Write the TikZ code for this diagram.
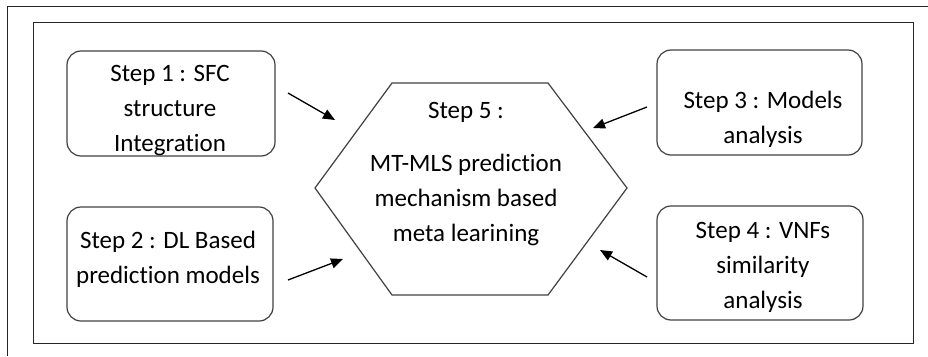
\documentclass[tikz,border=0pt]{standalone}
\usepackage{fontspec}
\setmainfont{Carlito}[Ligatures=NoCommon]
\usetikzlibrary{arrows.meta}

\tikzset{
  stepbox/.style={draw=black!75, line width=1.2pt, rounded corners=14pt,
    rectangle, inner sep=0pt},
  steptext/.style={align=center, inner sep=0pt, anchor=base,
    font=\fontsize{25}{35}\selectfont, text=black},
  flow/.style={-{Triangle[length=12pt,width=10pt]}, line width=1.3pt, black},
  frame/.style={draw=black!85, line width=1pt},
}

\begin{document}
\begin{tikzpicture}[x=1pt, y=-1pt]
  \useasboundingbox (0,0) rectangle (928,356);

  % outer page frame (only its top and left edges fall in view)
  \draw[frame] (7,356) -- (7,6) -- (928,6);
  % inner frame
  \draw[frame] (33,22) rectangle (913,343);

  % the four step boxes
  \node[stepbox, minimum width=208pt, minimum height=105pt] (s1) at (171,103.5) {};
  \node[stepbox, minimum width=206pt, minimum height=114pt] (s2) at (170,264) {};
  \node[stepbox, minimum width=205pt, minimum height=105pt] (s3) at (759.5,102.5) {};
  \node[stepbox, minimum width=206pt, minimum height=114pt] (s4) at (760,263) {};

  % box texts, placed by the baseline of their last line
  \node[steptext] (t1) at (170,151) {Step 1 : SFC\\structure\\Integration};
  \node[steptext] (t2) at (168,283) {Step 2 : DL Based\\prediction models};
  \node[steptext] (t3) at (763,143) {Step 3 : Models\\analysis};
  \node[steptext] (t4) at (763,308) {Step 4 : VNFs\\similarity\\analysis};

  % central hexagon
  \coordinate (h1) at (392,83);
  \coordinate (h2) at (548,83);
  \coordinate (h3) at (627,188);
  \coordinate (h4) at (548,295);
  \coordinate (h5) at (392,295);
  \coordinate (h6) at (315,188);
  \draw[draw=black!75, line width=1.2pt, line join=miter]
    (h1) -- (h2) -- (h3) -- (h4) -- (h5) -- (h6) -- cycle;
  \node[steptext] (t5) at (466,241)
    {Step 5 :\\[18pt]MT-MLS prediction\\mechanism based\\meta learining};

  % arrows into the hexagon
  \coordinate (a1s) at (288,93);  \coordinate (a1e) at (335,120);
  \coordinate (a2s) at (288,280); \coordinate (a2e) at (343,259);
  \coordinate (a3s) at (647,107); \coordinate (a3e) at (593,128);
  \coordinate (a4s) at (647,277); \coordinate (a4e) at (600,250);
  \draw[flow] (a1s) -- (a1e);
  \draw[flow] (a2s) -- (a2e);
  \draw[flow] (a3s) -- (a3e);
  \draw[flow] (a4s) -- (a4e);
\end{tikzpicture}
\end{document}
